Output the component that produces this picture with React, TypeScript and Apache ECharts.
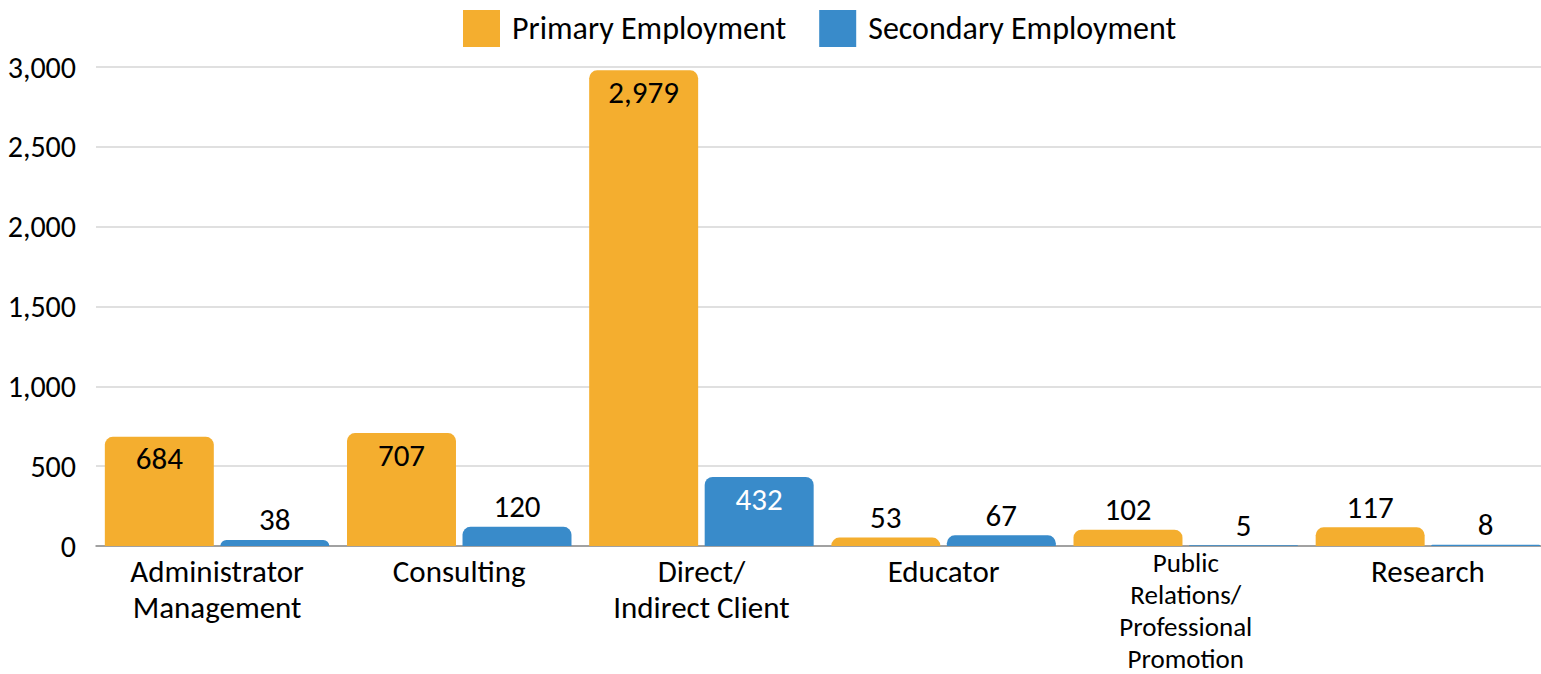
import React, { useEffect, useRef } from "react";
import * as echarts from "echarts";

const categories = [
  "Administrator\nManagement",
  "Consulting",
  "Direct/\nIndirect Client",
  "Educator",
  "Public\nRelations/\nProfessional\nPromotion",
  "Research",
];
const primaryValues = [684, 707, 2979, 53, 102, 117];
const secondaryValues = [38, 120, 432, 67, 5, 8];
const yTicks = { min: 0, max: 3000, interval: 500 };

const ORANGE = "#F4AE2F";
const BLUE = "#398BCA";
const FONT = "Carlito, Lato, sans-serif";

function buildData(values: number[], insideColor: string) {
  return values.map((v) =>
    v > 300
      ? { value: v, label: { position: "insideTop", distance: 6, color: insideColor } }
      : { value: v, label: { position: "top", distance: 5, color: "#000" } }
  );
}

function buildCategories(names: string[]) {
  return names.map((c) =>
    c.split("\n").length > 2
      ? { value: c, textStyle: { fontSize: 27, lineHeight: 32 } }
      : { value: c, textStyle: { padding: [7, 0, 0, 0] } }
  );
}

export default function App() {
  const ref = useRef<HTMLDivElement>(null);
  useEffect(() => {
    if (!ref.current) return;
    const chart = echarts.init(ref.current, null, { renderer: "svg" });
    const labelCommon = {
      show: true,
      fontSize: 31,
      fontFamily: FONT,
      formatter: (p: any) => Number(p.value).toLocaleString("en-US"),
    };
    chart.setOption({
      animation: false,
      textStyle: { fontFamily: FONT },
      legend: {
        left: 463,
        top: 10,
        padding: 0,
        itemWidth: 37,
        itemHeight: 37,
        itemGap: 33,
        icon: "rect",
        textStyle: { fontSize: 32, color: "#000", fontFamily: FONT, padding: [0, 0, 0, 7] },
        data: ["Primary Employment", "Secondary Employment"],
      },
      grid: {
        left: 96,
        right: -8,
        top: 67,
        bottom: 128,
        containLabel: false,
        outerBoundsMode: "none",
      },
      xAxis: {
        type: "category",
        data: buildCategories(categories),
        axisTick: { show: false },
        axisLine: { lineStyle: { color: "#8c8c8c", width: 1.5 } },
        axisLabel: {
          interval: 0,
          color: "#000",
          margin: 0,
          fontSize: 31,
          lineHeight: 36,
          fontFamily: FONT,
        },
      },
      yAxis: {
        type: "value",
        min: yTicks.min,
        max: yTicks.max,
        interval: yTicks.interval,
        axisLine: { show: false },
        axisTick: { show: false },
        splitLine: { lineStyle: { color: "#d6d6d6", width: 1.5 } },
        axisLabel: {
          fontSize: 30,
          color: "#000",
          margin: 20,
          fontFamily: FONT,
          formatter: (v: number) => v.toLocaleString("en-US"),
        },
      },
      series: [
        {
          name: "Primary Employment",
          type: "bar",
          data: buildData(primaryValues, "#000"),
          itemStyle: { color: ORANGE, borderRadius: [8, 8, 0, 0] },
          label: labelCommon,
          barGap: "6%",
          barCategoryGap: "7.3%",
        },
        {
          name: "Secondary Employment",
          type: "bar",
          data: buildData(secondaryValues, "#fff"),
          itemStyle: { color: BLUE, borderRadius: [8, 8, 0, 0] },
          label: labelCommon,
          barGap: "6%",
          barCategoryGap: "7.3%",
        },
      ],
    });
    return () => chart.dispose();
  }, []);
  return (
    <div
      ref={ref}
      style={{ position: "fixed", left: 0, top: 0, width: 1541, height: 674, background: "#fff" }}
    />
  );
}
